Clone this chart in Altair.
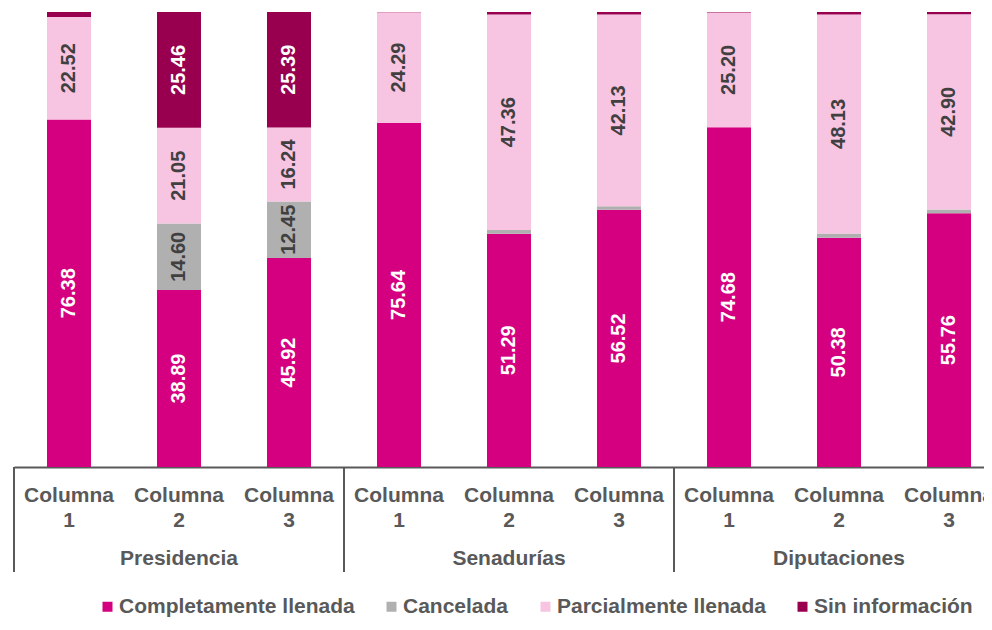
import altair as alt
import pandas as pd

groups = ["Presidencia", "Senadurías", "Diputaciones"]
columns = ["Columna 1", "Columna 2", "Columna 3"]
categories = ["Completamente llenada", "Cancelada", "Parcialmente llenada", "Sin información"]
colors = ["#D5007F", "#B0B0B0", "#F7C5E2", "#98004F"]
label_colors = ["#FFFFFF", "#404040", "#404040", "#FFFFFF"]

completa = [76.38, 38.89, 45.92, 75.64, 51.29, 56.52, 74.68, 50.38, 55.76]
cancelada = [0.00, 14.60, 12.45, 0.00, 0.80, 0.80, 0.00, 0.95, 0.85]
parcial = [22.52, 21.05, 16.24, 24.29, 47.36, 42.13, 25.20, 48.13, 42.90]
sin_info = [1.10, 25.46, 25.39, 0.07, 0.55, 0.55, 0.12, 0.54, 0.49]

series = [completa, cancelada, parcial, sin_info]
keys = [f"{g}|{c}" for g in groups for c in columns]

rows = []
for ci, (cat, vals) in enumerate(zip(categories, series)):
    for i, k in enumerate(keys):
        rows.append({"key": k, "cat": cat, "ord": ci, "value": vals[i],
                     "lab": label_colors[ci]})
df = pd.DataFrame(rows)

FONT = "Liberation Sans"
GRAY = "#595959"

xscale = alt.Scale(domain=keys, range=[0, 990], paddingInner=0.6, paddingOuter=0.3)

xenc = alt.X("key:N", sort=keys, scale=xscale,
             axis=alt.Axis(title="", labelAngle=0, ticks=False,
                           labelExpr="split(split(datum.label, '|')[1], ' ')",
                           labelFont=FONT, labelFontSize=21, labelFontWeight="bold",
                           labelColor=GRAY, labelLineHeight=25, labelPadding=17,
                           labelOverlap=False, labelBound=False, labelFlush=False,
                           domainColor=GRAY, domainWidth=2))

base = alt.Chart(df).transform_stack(
    stack="value", groupby=["key"], sort=[alt.SortField("ord", order="ascending")],
    as_=["y0", "y1"]
).transform_calculate(mid="(datum.y0 + datum.y1) / 2")

bars = base.mark_bar().encode(
    x=xenc,
    y=alt.Y("y0:Q", scale=alt.Scale(domain=[0, 100]), axis=None),
    y2="y1:Q",
    color=alt.Color("cat:N", sort=categories,
                    scale=alt.Scale(domain=categories, range=colors),
                    legend=alt.Legend(title="", orient="none", direction="horizontal",
                                      columns=4, legendX=83, legendY=584,
                                      symbolType="square", symbolSize=100,
                                      symbolStrokeWidth=0, labelOffset=1,
                                      columnPadding=26, labelLimit=400,
                                      labelFont=FONT, labelFontSize=21,
                                      labelFontWeight="bold", labelColor=GRAY)),
)

texts = base.transform_filter("datum.value >= 5").mark_text(
    angle=270, font=FONT, fontSize=20, fontWeight="bold", baseline="middle", align="center"
).encode(
    x=alt.X("key:N", sort=keys),
    y=alt.Y("mid:Q"),
    text=alt.Text("value:Q", format=".2f"),
    color=alt.Color("lab:N", scale=None),
)

gdf = pd.DataFrame({"key": [f"{g}|{columns[1]}" for g in groups], "group": groups})
glabels = alt.Chart(gdf).mark_text(
    font=FONT, fontSize=21, fontWeight="bold", color=GRAY, baseline="alphabetic"
).encode(
    x=alt.X("key:N", sort=keys),
    y=alt.value(553),
    text="group:N",
)

left_df = pd.DataFrame({"key": [f"{g}|{columns[0]}" for g in groups]})
right_df = pd.DataFrame({"key": [f"{groups[-1]}|{columns[-1]}"]})

left_rules = alt.Chart(left_df).mark_rule(color=GRAY, strokeWidth=2).encode(
    x=alt.X("key:N", sort=keys, bandPosition=0.5),
    xOffset=alt.value(-33),
    y=alt.value(455), y2=alt.value(560),
)
right_rules = alt.Chart(right_df).mark_rule(color=GRAY, strokeWidth=2).encode(
    x=alt.X("key:N", sort=keys, bandPosition=0.5),
    xOffset=alt.value(77),
    y=alt.value(455), y2=alt.value(560),
)

chart = alt.layer(bars, texts, glabels, left_rules, right_rules).properties(
    width=970, height=455,
    autosize=alt.AutoSizeParams(type="none"),
    padding={"left": 6, "top": 4, "right": 0, "bottom": 151},
).configure_view(stroke=None)

chart.save("out.html", embed_options={"renderer": "svg", "actions": False})
